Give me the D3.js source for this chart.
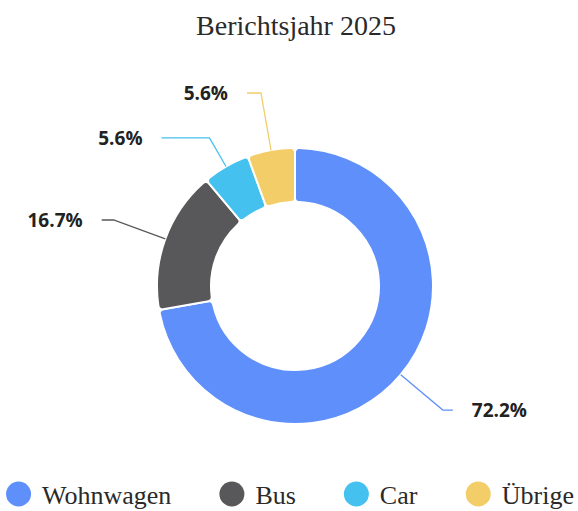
<!DOCTYPE html>
<html>
<head>
<meta charset="utf-8">
<script src="https://cdn.jsdelivr.net/npm/d3@7"></script>
<style>
    html, body { margin: 0; padding: 0; background: #fff; }
    svg { display: block; }
</style>
</head>
<body>
<svg width="578" height="511"></svg>
<script>
/*global d3 */
"use strict";

var categories = ["Wohnwagen", "Bus", "Car", "Übrige"];
var counts = [13, 3, 1, 1];
var colors = ["#5f8ffa", "#58585a", "#45c1ef", "#f3cd67"];
var title = "Berichtsjahr 2025";

// leader line geometry per slice (first segment, horizontal segment), px
var leaderFirst = [55, 55, 33, 58];
var leaderSecond = [10, 12, 48, 14];

var width = 578;
var center = {x: 295, y: 286};
var outerRadius = 138; // px
var innerRadius = 84; // px
var labelGap = 19; // px

var svg = d3.select("svg");

svg.append("text")
    .attr("x", 296)
    .attr("y", 35)
    .attr("text-anchor", "middle")
    .attr("font-family", "'Liberation Serif', 'Times New Roman', serif")
    .attr("font-size", 28)
    .attr("fill", "#2a2a2a")
    .text(title);

var total = d3.sum(counts);
var pie = d3.pie().sort(null).value(function (d) {
    return d;
});
var arcs = pie(counts);

var arc = d3.arc()
    .innerRadius(innerRadius)
    .outerRadius(outerRadius)
    .cornerRadius(4);

var chart = svg.append("g")
    .attr("transform", "translate(" + center.x + "," + center.y + ")");

chart.selectAll("path.slice")
    .data(arcs)
    .join("path")
    .attr("class", "slice")
    .attr("d", arc)
    .attr("fill", function (d, i) {
        return colors[i];
    })
    .attr("stroke", "#fff")
    .attr("stroke-width", 2);

var leader = function (d, i) {
    var a = (d.startAngle + d.endAngle) / 2;
    var sx = Math.sin(a);
    var sy = -Math.cos(a);
    var p0 = [outerRadius * sx, outerRadius * sy];
    var p1 = [p0[0] + leaderFirst[i] * sx, p0[1] + leaderFirst[i] * sy];
    var dir = sx >= 0 ? 1 : -1;
    var p2 = [p1[0] + dir * leaderSecond[i], p1[1]];
    return {points: [p0, p1, p2], dir: dir};
};

var leaders = arcs.map(leader);

chart.selectAll("path.leader")
    .data(leaders)
    .join("path")
    .attr("class", "leader")
    .attr("d", function (d) {
        return d3.line()(d.points);
    })
    .attr("fill", "none")
    .attr("stroke", function (d, i) {
        return colors[i];
    })
    .attr("stroke-width", 1.3);

chart.selectAll("text.label")
    .data(leaders)
    .join("text")
    .attr("class", "label")
    .attr("x", function (d) {
        return d.points[2][0] + d.dir * labelGap;
    })
    .attr("y", function (d) {
        return d.points[2][1];
    })
    .attr("dy", "0.35em")
    .attr("text-anchor", function (d) {
        return d.dir > 0 ? "start" : "end";
    })
    .attr("font-family", "'Open Sans', 'Noto Sans', sans-serif")
    .attr("font-weight", "bold")
    .attr("font-size", 19)
    .attr("fill", "#222")
    .text(function (d, i) {
        return d3.format(".1%")(counts[i] / total);
    });

// legend
var legendFont = "'Liberation Serif', 'Times New Roman', serif";
var legendRadius = 12.5;
var legendTextGap = 11;
var legendItemGap = 48;
var legendY = 494;

var legend = svg.append("g");
var items = legend.selectAll("g.item")
    .data(categories)
    .join("g")
    .attr("class", "item");

items.append("circle")
    .attr("cx", legendRadius)
    .attr("cy", legendY)
    .attr("r", legendRadius)
    .attr("fill", function (d, i) {
        return colors[i];
    });

items.append("text")
    .attr("x", legendRadius * 2 + legendTextGap)
    .attr("y", legendY + 10)
    .attr("font-family", legendFont)
    .attr("font-size", 26)
    .attr("fill", "#2a2a2a")
    .text(function (d) {
        return d;
    });

var offsets = [];
var run = 0;
items.each(function () {
    var w = this.getBBox().width;
    offsets.push(run);
    run += w + legendItemGap;
});
run -= legendItemGap;
var startX = (width - run) / 2 + 1;
items.attr("transform", function (d, i) {
    return "translate(" + (startX + offsets[i]) + ",0)";
});
</script>
</body>
</html>
